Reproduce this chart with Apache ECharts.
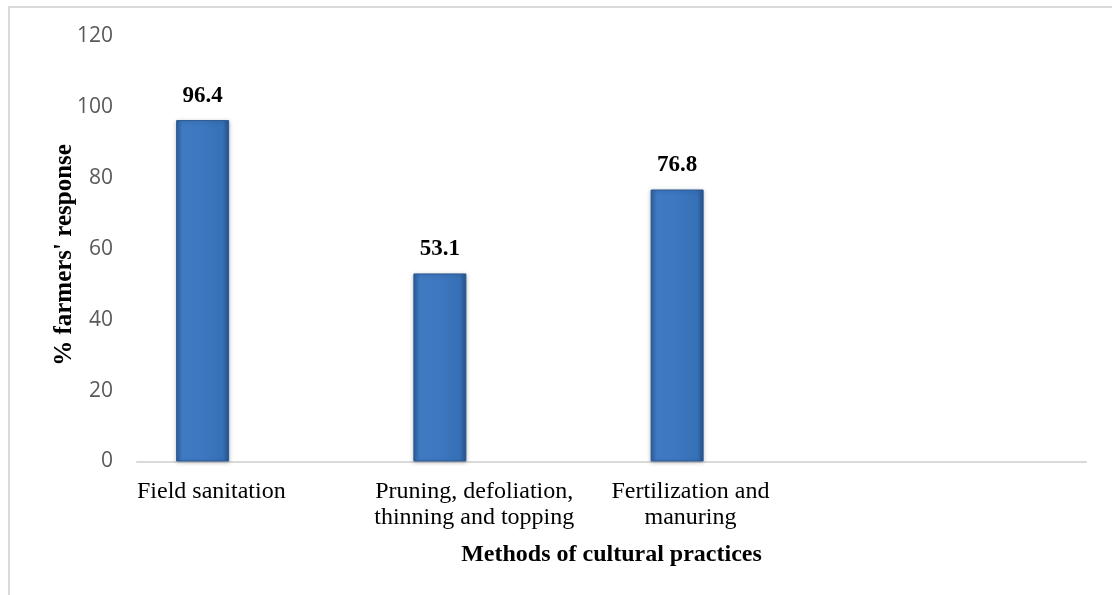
<!DOCTYPE html>
<html>
<head>
<meta charset="utf-8">
<script src="https://cdn.jsdelivr.net/npm/echarts@6/dist/echarts.min.js"></script>
<style>
  html, body { margin: 0; padding: 0; background: #ffffff; }
  #chart { width: 1112px; height: 595px; }
</style>
</head>
<body>
<div id="chart"></div>
<script>
// Methods of cultural practices and the share of farmers using each one
const categories = [
  'Field sanitation',
  'Pruning, defoliation,\nthinning and topping',
  'Fertilization and\nmanuring',
  ''
];
const responsePct = [96.4, 53.1, 76.8, null];
const yTicks = { min: 0, max: 120, interval: 20 };

const serif = '"Liberation Serif", "DejaVu Serif", serif';

// Bevelled blue column look
const barFill = {
  type: 'linear', x: 0, y: 0, x2: 1, y2: 0,
  colorStops: [
    { offset: 0, color: '#2d5e9e' },
    { offset: 0.12, color: '#3f7ac2' },
    { offset: 0.5, color: '#3c77c0' },
    { offset: 0.88, color: '#3670b6' },
    { offset: 1, color: '#28548c' }
  ]
};

const chart = echarts.init(document.getElementById('chart'), null, { renderer: 'canvas' });

chart.setOption({
  animation: false,
  backgroundColor: '#ffffff',
  graphic: [{
    type: 'rect',
    shape: { x: 9, y: 7, width: 1300, height: 800 },
    style: { fill: 'none', stroke: '#d9d9d9', lineWidth: 2 },
    silent: true,
    z: -10
  }],
  grid: { left: 137, right: 26, top: 36.5, bottom: 133.5, containLabel: false },
  xAxis: [
    {
      // bar positions (Excel-style cluster of three slots, first one filled)
      type: 'category',
      data: categories,
      position: 'bottom',
      axisLine: { show: true, lineStyle: { color: '#d9d9d9', width: 2 } },
      axisTick: { show: false },
      axisLabel: { show: false },
      splitLine: { show: false }
    },
    {
      // category captions start at each category boundary
      type: 'category',
      data: categories.concat(['']),
      boundaryGap: false,
      position: 'bottom',
      axisLine: { show: false },
      axisTick: { show: false },
      splitLine: { show: false },
      axisLabel: {
        interval: 0,
        align: 'left',
        margin: 17,
        fontFamily: serif,
        fontSize: 24,
        lineHeight: 26,
        color: '#000000',
        formatter: v => v ? v.split('\n').map(s => '{c|' + s + '}').join('\n') : '',
        rich: { c: { align: 'center', fontFamily: serif, fontSize: 24, lineHeight: 26, color: '#000000' } }
      },
      name: 'Methods of cultural practices',
      nameLocation: 'middle',
      nameGap: 81,
      nameMoveOverlap: false,
      nameTextStyle: { fontFamily: serif, fontSize: 24, fontWeight: 'bold', color: '#000000' }
    }
  ],
  yAxis: {
    type: 'value',
    min: yTicks.min,
    max: yTicks.max,
    interval: yTicks.interval,
    axisLine: { show: false },
    axisTick: { show: false },
    splitLine: { show: false },
    axisLabel: { margin: 24, fontFamily: '"Open Sans", sans-serif', fontSize: 21, color: '#595959', padding: [6, 0, 0, 0] },
    name: "% farmers' response",
    nameLocation: 'middle',
    nameRotate: 90,
    nameGap: 60,
    nameMoveOverlap: false,
    nameTextStyle: { fontFamily: serif, fontSize: 25, fontWeight: 'bold', color: '#000000', padding: [0, 12, 0, 0] }
  },
  series: [
    {
      name: 'response',
      type: 'bar',
      xAxisIndex: 0,
      data: responsePct,
      barWidth: 53,
      barGap: '0%',
      itemStyle: {
        color: barFill,
        borderColor: '#2a5791',
        borderWidth: 1,
        shadowColor: 'rgba(0,0,0,0.25)',
        shadowBlur: 4,
        shadowOffsetY: 1
      },
      label: {
        show: true,
        position: 'top',
        distance: 13,
        fontFamily: serif,
        fontSize: 23,
        fontWeight: 'bold',
        color: '#000000',
        formatter: p => p.value.toFixed(1)
      }
    },
    { name: 'slot2', type: 'bar', xAxisIndex: 0, data: [], barWidth: 53, barGap: '0%' },
    { name: 'slot3', type: 'bar', xAxisIndex: 0, data: [], barWidth: 53, barGap: '0%' }
  ]
});
</script>
</body>
</html>
